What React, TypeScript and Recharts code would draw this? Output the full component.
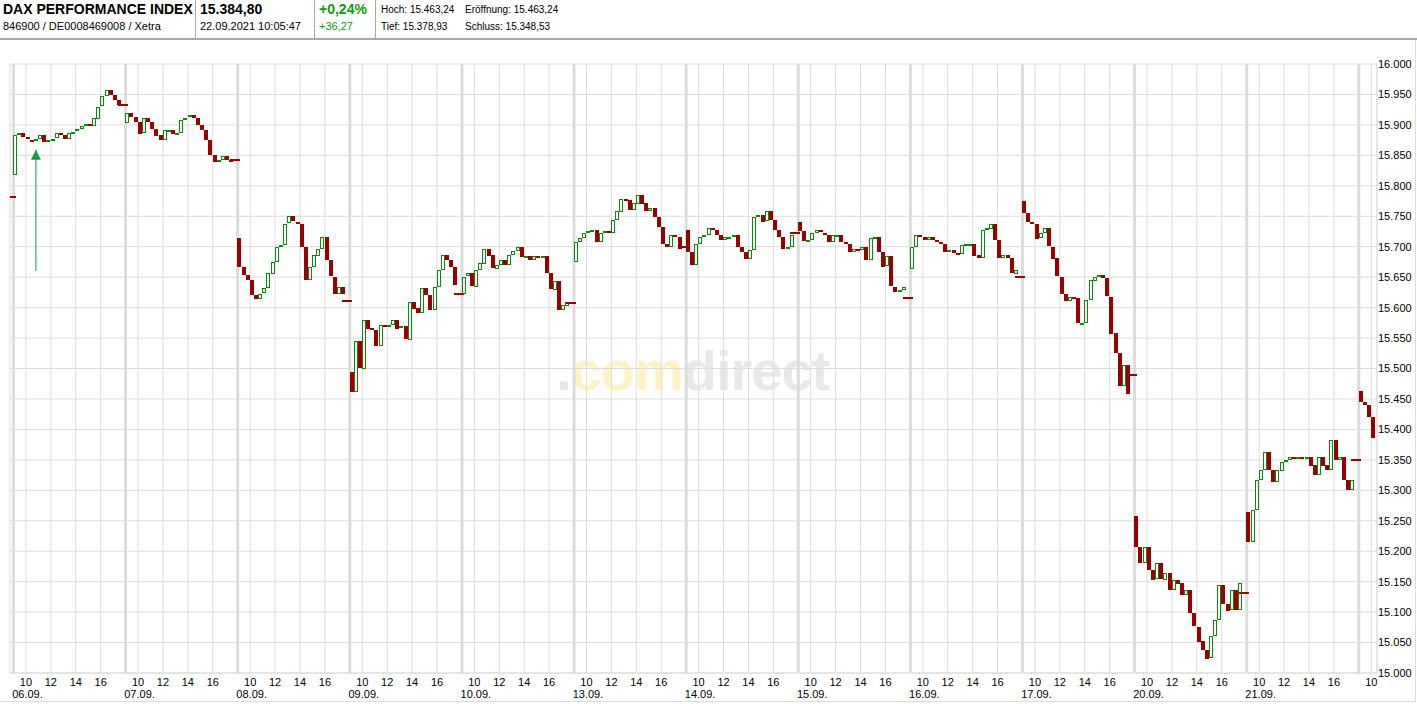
import React from "react";
import {
  ComposedChart,
  Bar,
  XAxis,
  YAxis,
  CartesianGrid,
  ReferenceLine,
  ReferenceDot,
} from "recharts";

const GREEN = "#0a8a0a";
const RED = "#990000";
const GRID = "#dcdcdc";
const ARROW = "#14993f";
const FONT = '"Liberation Sans", Arial, sans-serif';

// trading days shown on the axis (22.09. has no date label in the original)
const dayLabels = ["06.09.", "07.09.", "08.09.", "09.09.", "10.09.", "13.09.", "14.09.", "15.09.", "16.09.", "17.09.", "20.09.", "21.09."];
const hourTicks = [10, 12, 14, 16];
const priceTicks = [
  15000, 15050, 15100, 15150, 15200, 15250, 15300, 15350, 15400, 15450, 15500,
  15550, 15600, 15650, 15700, 15750, 15800, 15850, 15900, 15950, 16000,
];

// previous close (03.09.) and per-day open / closing auction
const prevClose = 15781;
const dayOpens = [15818, 15903, 15714, 15495, 15623, 15675, 15728, 15740, 15664, 15775, 15258, 15265, 15463];
const dayCloses = [15933, 15842, 15611, 15623, 15608, 15700, 15722, 15615, 15651, 15489, 15131, 15349, null];

// 20-minute closes from 09:00
const c0609 = [15883, 15886, 15880, 15876, 15874, 15877, 15883, 15872, 15875, 15877, 15886, 15883, 15876, 15886, 15889, 15893, 15898, 15901, 15898, 15911, 15930, 15947, 15957, 15949, 15941, 15933];
const c0709 = [15919, 15913, 15905, 15886, 15911, 15905, 15894, 15883, 15875, 15892, 15892, 15885, 15887, 15908, 15912, 15916, 15911, 15900, 15892, 15875, 15851, 15840, 15842, 15849, 15843, 15841];
const c0809 = [15667, 15654, 15645, 15621, 15615, 15623, 15632, 15656, 15675, 15700, 15703, 15738, 15750, 15741, 15738, 15700, 15645, 15667, 15686, 15697, 15716, 15678, 15651, 15623, 15634, 15623];
const c0909 = [15462, 15545, 15500, 15580, 15566, 15563, 15536, 15571, 15569, 15571, 15580, 15566, 15569, 15548, 15610, 15599, 15591, 15632, 15621, 15596, 15634, 15662, 15686, 15678, 15667, 15637];
const c1009 = [15651, 15656, 15634, 15662, 15673, 15697, 15686, 15664, 15670, 15678, 15670, 15686, 15693, 15700, 15684, 15684, 15678, 15684, 15683, 15684, 15656, 15629, 15643, 15596, 15604, 15610];
const c1309 = [15708, 15714, 15722, 15725, 15727, 15708, 15722, 15725, 15722, 15744, 15758, 15779, 15777, 15760, 15771, 15785, 15771, 15758, 15763, 15749, 15733, 15705, 15700, 15719, 15716, 15697];
const c1409 = [15692, 15670, 15705, 15716, 15719, 15730, 15727, 15719, 15711, 15716, 15716, 15719, 15700, 15692, 15681, 15695, 15749, 15752, 15741, 15758, 15744, 15727, 15716, 15697, 15700, 15719];
const c1509 = [15725, 15708, 15711, 15722, 15727, 15723, 15719, 15708, 15719, 15719, 15708, 15705, 15692, 15697, 15695, 15700, 15678, 15714, 15716, 15692, 15667, 15684, 15634, 15626, 15629, 15634];
const c1609 = [15700, 15719, 15716, 15711, 15716, 15711, 15708, 15705, 15692, 15695, 15690, 15689, 15703, 15705, 15705, 15686, 15681, 15727, 15730, 15738, 15711, 15681, 15686, 15681, 15656, 15662];
const c1709 = [15755, 15741, 15738, 15714, 15722, 15730, 15700, 15681, 15651, 15623, 15612, 15618, 15615, 15574, 15574, 15612, 15645, 15651, 15653, 15648, 15618, 15558, 15525, 15470, 15505, 15458];
const c2009 = [15207, 15180, 15207, 15169, 15153, 15180, 15153, 15164, 15136, 15153, 15147, 15128, 15136, 15098, 15076, 15052, 15038, 15024, 15060, 15087, 15145, 15114, 15103, 15136, 15103, 15147];
const c2109 = [15215, 15268, 15317, 15333, 15363, 15333, 15314, 15333, 15347, 15350, 15355, 15353, 15355, 15353, 15355, 15341, 15325, 15355, 15341, 15333, 15383, 15350, 15355, 15317, 15301, 15317];
const c2209 = [15445, 15440, 15420, 15385];

const sessions = [c0609, c0709, c0809, c0909, c1009, c1309, c1409, c1509, c1609, c1709, c2009, c2109, c2209];

// green signal arrow on 06.09.
const signal = { hour: 1.8, base: 15660, tip: 15859 };

// x axis unit: hours, each day occupies 9 hours starting at 09:00
const SLOT = 20;
const DAY = 9;

type Candle = { t: number; open: number; close: number; range: [number, number]; closing?: boolean };

const candles: Candle[] = [{ t: -0.2, open: prevClose, close: prevClose, range: [prevClose, prevClose], closing: true }];
sessions.forEach((closes, d) => {
  let last = dayOpens[d];
  closes.forEach((c, k) => {
    candles.push({
      t: d * DAY + (k * SLOT + SLOT / 2) / 60,
      open: last,
      close: c,
      range: [Math.min(last, c), Math.max(last, c)],
    });
    last = c;
  });
  const fin = dayCloses[d];
  if (fin != null) candles.push({ t: d * DAY + 8.8, open: fin, close: fin, range: [fin, fin], closing: true });
});

const X_DOMAIN: [number, number] = [-0.28, 109.46];
const xTicks = sessions
  .flatMap((_, d) => hourTicks.map((h) => d * DAY + h - 9))
  .filter((t) => t < X_DOMAIN[1]);
const separators = sessions.map((_, d) => d * DAY);

const fmtPrice = (v: number) => `${Math.floor(v / 1000)}.${String(v % 1000).padStart(3, "0")}`;

function CandleShape(props: any) {
  const { x, y, width, height, payload } = props;
  if (x == null || y == null || !payload) return null;
  const cx = Math.round(x + width / 2);
  const top = Math.round(y);
  if (payload.closing) {
    return <rect x={cx - 5} y={top - 1} width={10} height={2} fill={RED} />;
  }
  const up = payload.close >= payload.open;
  const h = Math.max(2, Math.round(height || 0));
  if (up) {
    return <rect x={cx - 1.5} y={top + 0.5} width={3} height={h - 1} fill="#fff" stroke={GREEN} strokeWidth={1} />;
  }
  return <rect x={cx - 2} y={top} width={4} height={h} fill={RED} />;
}

function HourTick(props: any) {
  const { x, y, payload } = props;
  const t = payload.value as number;
  const d = Math.floor(t / DAY);
  const hour = Math.round(t - d * DAY + 9);
  const date = hour === 10 ? dayLabels[d] : undefined;
  return (
    <g>
      <text x={x} y={y + 13} textAnchor="middle" fontSize={11} fill="#000">
        {hour}
      </text>
      {date && (
        <text x={x + 1.5} y={y + 25} textAnchor="middle" fontSize={11} fill="#000">
          {date}
        </text>
      )}
    </g>
  );
}

const txt = (left: number, top: number, size: number, text: string, opts: { bold?: boolean; color?: string } = {}) => (
  <div
    style={{
      position: "absolute",
      left,
      top,
      fontSize: size,
      lineHeight: `${size}px`,
      fontWeight: opts.bold ? "bold" : "normal",
      color: opts.color || "#000",
      whiteSpace: "nowrap",
    }}
  >
    {text}
  </div>
);

export default function App() {
  return (
    <div
      style={{
        position: "absolute",
        left: 0,
        top: 0,
        width: 1417,
        height: 704,
        background: "#fff",
        fontFamily: FONT,
        overflow: "hidden",
      }}
    >
      <svg width={1417} height={704} style={{ position: "absolute", left: 0, top: 0 }}>
        <text x={556} y={390} fontSize={56} fontWeight="bold" letterSpacing={-1} fontFamily={FONT}>
          <tspan fill="#e4e4e4">.</tspan>
          <tspan fill="#fff3c6">com</tspan>
          <tspan fill="#e8e8e8">direct</tspan>
        </text>
      </svg>

      <div style={{ position: "absolute", left: 0, top: 0 }}>
        <ComposedChart width={1417} height={704} data={candles} margin={{ top: 64, right: 0, bottom: 0, left: 10 }}>
          <CartesianGrid stroke={GRID} strokeWidth={1} />
          <XAxis
            type="number"
            dataKey="t"
            domain={X_DOMAIN}
            allowDataOverflow
            ticks={xTicks}
            interval={0}
            tick={<HourTick />}
            tickLine={false}
            tickSize={0}
            tickMargin={0}
            axisLine={{ stroke: GRID }}
            height={31}
          />
          <YAxis
            orientation="right"
            domain={[15000, 16000]}
            allowDataOverflow
            ticks={priceTicks}
            interval={0}
            tickFormatter={fmtPrice}
            tick={{ fontSize: 11, fill: "#000" }}
            tickLine={false}
            tickSize={0}
            tickMargin={1}
            axisLine={{ stroke: GRID }}
            width={40}
          />
          <YAxis
            yAxisId="frame"
            orientation="left"
            domain={[15000, 16000]}
            tick={false}
            tickLine={false}
            axisLine={{ stroke: GRID }}
            width={0}
          />
          {separators.map((s) => (
            <ReferenceLine key={s} x={s} stroke={GRID} strokeWidth={3} zIndex={-50} />
          ))}
          <Bar dataKey="range" barSize={3} shape={<CandleShape />} isAnimationActive={false} />
          <ReferenceLine
            segment={[
              { x: signal.hour, y: signal.base },
              { x: signal.hour, y: signal.tip },
            ]}
            stroke={ARROW}
            strokeWidth={1}
          />
          <ReferenceDot
            x={signal.hour}
            y={signal.tip}
            r={0}
            shape={(p: any) => (
              <polygon points={`${p.cx},${p.cy} ${p.cx - 5},${p.cy + 10} ${p.cx + 5},${p.cy + 10}`} fill={ARROW} />
            )}
          />
        </ComposedChart>
      </div>

      {/* header */}
      <div style={{ position: "absolute", left: 0, top: 0, width: 1417, height: 39, background: "#fff" }}>
        {txt(3, 2, 14, "DAX PERFORMANCE INDEX", { bold: true })}
        {txt(3, 21, 11, "846900 / DE0008469008 / Xetra")}
        {txt(200, 2, 14, "15.384,80", { bold: true })}
        {txt(200, 21, 11, "22.09.2021 10:05:47")}
        {txt(319, 2, 14, "+0,24%", { bold: true, color: "#119911" })}
        {txt(319, 21, 11, "+36,27", { color: "#119911" })}
        {txt(381, 5, 10, "Hoch: 15.463,24")}
        {txt(465, 5, 10, "Eröffnung: 15.463,24")}
        {txt(381, 22, 10, "Tief: 15.378,93")}
        {txt(465, 22, 10, "Schluss: 15.348,53")}
        {[195, 314, 375].map((x) => (
          <div key={x} style={{ position: "absolute", left: x, top: 0, width: 1, height: 38, background: "#a8a8a8" }} />
        ))}
      </div>
      <div style={{ position: "absolute", left: 0, top: 38, width: 1417, height: 2, background: "#a8a8a8" }} />
      <div style={{ position: "absolute", left: 0, top: 701, width: 1416, height: 1, background: GRID }} />
      <div style={{ position: "absolute", left: 1415, top: 40, width: 1, height: 662, background: GRID }} />
    </div>
  );
}
